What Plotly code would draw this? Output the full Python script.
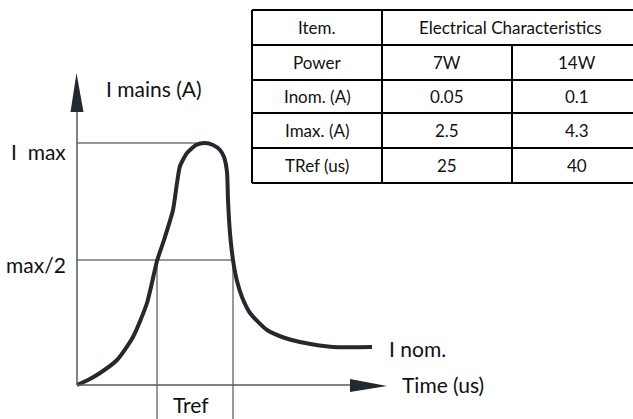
import plotly.graph_objects as go

# ---- data (schematic units: origin at axis crossing) ----
curve_t = [0, 11, 23, 40, 56, 70, 80, 87, 96, 100, 103, 110, 119, 128, 136, 143, 147, 150, 151, 153, 156, 160, 165, 173, 190, 208, 223, 256, 295]
curve_i = [0, 5, 12, 25, 48, 82, 124, 145, 175, 202, 219, 232, 240, 242, 240, 235, 228, 213, 185, 152, 125, 104, 88, 72, 55, 47, 43, 38, 38]
i_max = 242
i_half = 125
t_rise = 80
t_fall = 156

table_header = ["Item.", "Electrical Characteristics"]
table_rows = [
    ["Power", "7W", "14W"],
    ["Inom. (A)", "0.05", "0.1"],
    ["Imax. (A)", "2.5", "4.3"],
    ["TRef (us)", "25", "40"],
]

W, H = 633, 419
OX, OY = 77, 385  # pixel origin of axes
FONT = "Lato"
INK = "#23292f"

fig = go.Figure()
fig.add_trace(go.Scatter(
    x=curve_t, y=curve_i, mode="lines",
    line=dict(color=INK, width=4, shape="spline", smoothing=0.6),
    hoverinfo="skip", showlegend=False))

shapes = []
thin = dict(color="#333333", width=1)
# guide lines
shapes.append(dict(type="line", x0=0, y0=i_max, x1=128, y1=i_max, line=thin, layer="below"))
shapes.append(dict(type="line", x0=0, y0=i_half, x1=t_fall, y1=i_half, line=thin, layer="below"))
shapes.append(dict(type="line", x0=t_rise, y0=i_half, x1=t_rise, y1=-34, line=thin, layer="below"))
shapes.append(dict(type="line", x0=t_fall, y0=i_half, x1=t_fall, y1=-34, line=thin, layer="below"))
# axes
axl = dict(color="#555a5e", width=1.5)
shapes.append(dict(type="line", x0=0, y0=0, x1=0, y1=275, line=axl))
shapes.append(dict(type="line", x0=0, y0=0, x1=275, y1=0, line=axl))
shapes.append(dict(type="path", path="M -6.5 273 L 6.5 273 L -0.5 312 Z", fillcolor=INK, line=dict(width=0)))
shapes.append(dict(type="path", path="M 273 6 L 273 -7 L 310 -1 Z", fillcolor=INK, line=dict(width=0)))

# table in paper coords
def px(x):
    return x / W
def py(y):
    return 1 - y / H

tl = dict(color="#000000", width=2)
rows_y = [10, 45, 80, 113, 148, 183]
x_left, x_c1, x_c2, x_right = 252, 382, 512, 642
for yy in rows_y:
    shapes.append(dict(type="line", xref="paper", yref="paper", x0=px(x_left), x1=px(x_right), y0=py(yy), y1=py(yy), line=tl))
shapes.append(dict(type="line", xref="paper", yref="paper", x0=px(x_left), x1=px(x_left), y0=py(rows_y[0]), y1=py(rows_y[-1]), line=tl))
shapes.append(dict(type="line", xref="paper", yref="paper", x0=px(x_c1), x1=px(x_c1), y0=py(rows_y[0]), y1=py(rows_y[-1]), line=tl))
shapes.append(dict(type="line", xref="paper", yref="paper", x0=px(x_c2), x1=px(x_c2), y0=py(rows_y[1]), y1=py(rows_y[-1]), line=tl))

ann = []
tf = dict(family=FONT, size=17, color="#111111")
def cell(text, xc, yc):
    ann.append(dict(text=text, xref="paper", yref="paper", x=px(xc), y=py(yc), showarrow=False,
                    xanchor="center", yanchor="middle", font=tf))
cell(table_header[0], (x_left + x_c1) / 2, (rows_y[0] + rows_y[1]) / 2)
cell(table_header[1], (x_c1 + x_right) / 2 - 2, (rows_y[0] + rows_y[1]) / 2)
cols = [(x_left + x_c1) / 2, (x_c1 + x_c2) / 2, (x_c2 + x_right) / 2]
for r, row in enumerate(table_rows):
    yc = (rows_y[r + 1] + rows_y[r + 2]) / 2
    for c, t in enumerate(row):
        cell(t, cols[c], yc)

lf = dict(family=FONT, size=21, color="#111111")
def label(text, x, y, anchor):
    ann.append(dict(text=text, xref="paper", yref="paper", x=px(x), y=py(y), showarrow=False,
                    xanchor=anchor, yanchor="middle", font=lf))
label("I&nbsp;&nbsp;max", 68, 151, "right")
label("max/2", 68, 264, "right")
label("I mains (A)", 104, 88, "left")
label("I nom.", 387, 348, "left")
label("Time (us)", 400, 384, "left")
label("Tref", 191, 404, "center")

fig.update_layout(
    width=W, height=H, margin=dict(l=0, r=0, t=0, b=0),
    paper_bgcolor="white", plot_bgcolor="white",
    xaxis=dict(range=[-OX, W - OX], visible=False, fixedrange=True),
    yaxis=dict(range=[OY - H, OY], visible=False, fixedrange=True),
    shapes=shapes, annotations=ann, showlegend=False,
)
fig.write_html("out.html", config=dict(displayModeBar=False),
               post_script="document.body.style.margin='0';document.body.style.overflow='hidden';")
